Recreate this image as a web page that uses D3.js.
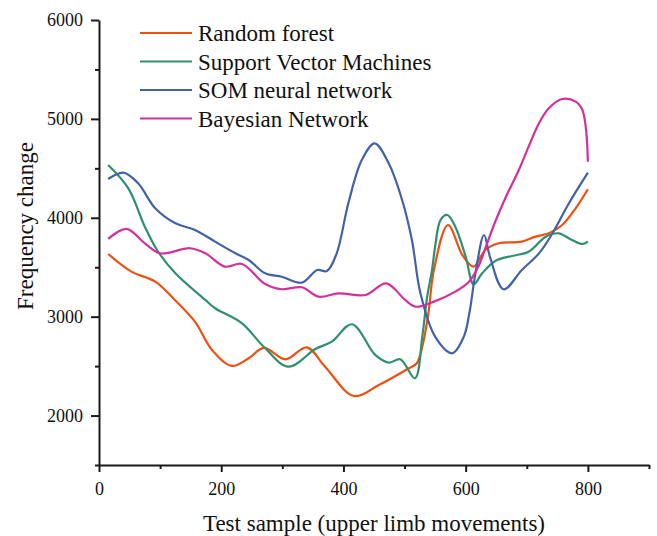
<!DOCTYPE html>
<html>
<head>
<meta charset="utf-8">
<script src="https://cdn.jsdelivr.net/npm/d3@7"></script>
<style>
  body { margin: 0; background: #fff; }
  svg { display: block; font-family: "Liberation Serif", "Times New Roman", serif; }
  svg text { font-family: "Liberation Serif", "Times New Roman", serif; }
</style>
</head>
<body>
<div id="chart"></div>
<script>
// series names + colours
const seriesNames = ["Random forest", "Support Vector Machines", "SOM neural network", "Bayesian Network"];
const seriesColors = ["#ef4f10", "#2f8f6f", "#4262a8", "#d4309a"];

// Random forest
const rfX = [15, 53, 92, 124, 157, 185, 217, 245, 270, 305, 340, 370, 417, 458, 507, 520, 529, 539, 548, 571, 595, 613, 632, 654, 692, 714, 736, 758, 780, 800];
const rfY = [3634, 3455, 3354, 3169, 2949, 2663, 2502, 2580, 2685, 2569, 2690, 2494, 2198, 2309, 2478, 2529, 2697, 3034, 3472, 3927, 3620, 3506, 3674, 3742, 3759, 3809, 3843, 3927, 4096, 4288];

// Support Vector Machines
const svmX = [15, 48, 75, 95, 125, 174, 190, 234, 270, 310, 354, 381, 414, 452, 474, 493, 517, 529, 537, 545, 550, 559, 570, 583, 600, 613, 627, 649, 676, 703, 731, 752, 774, 791, 800];
const svmY = [4534, 4298, 3910, 3674, 3438, 3169, 3085, 2933, 2693, 2494, 2673, 2747, 2923, 2613, 2535, 2569, 2377, 2798, 3202, 3472, 3708, 3978, 4028, 3910, 3607, 3327, 3438, 3566, 3614, 3657, 3809, 3843, 3776, 3735, 3759];

// SOM neural network
const somX = [15, 40, 64, 92, 125, 157, 190, 223, 245, 272, 299, 332, 357, 373, 389, 408, 430, 451, 474, 496, 512, 526, 550, 578, 597, 606, 616, 630, 640, 662, 692, 720, 742, 769, 800];
const somY = [4392, 4456, 4349, 4096, 3944, 3877, 3759, 3641, 3573, 3438, 3404, 3344, 3472, 3462, 3641, 4147, 4584, 4753, 4551, 4180, 3776, 3236, 2798, 2630, 2798, 3034, 3438, 3826, 3600, 3277, 3472, 3640, 3843, 4147, 4456];

// Bayesian Network
const bnX = [15, 45, 75, 100, 149, 174, 206, 234, 272, 299, 332, 359, 392, 436, 470, 501, 518, 548, 583, 605, 621, 635, 649, 665, 687, 703, 720, 736, 758, 780, 791, 797, 800];
const bnY = [3786, 3887, 3742, 3641, 3692, 3641, 3506, 3533, 3330, 3277, 3297, 3202, 3236, 3219, 3337, 3169, 3101, 3152, 3253, 3350, 3510, 3740, 3970, 4200, 4483, 4719, 4955, 5107, 5201, 5174, 5090, 4888, 4567];

const xTicks = [0, 100, 200, 300, 400, 500, 600, 700, 800, 900];
const yTicks = [1500, 2000, 2500, 3000, 3500, 4000, 4500, 5000, 5500, 6000];

const allX = [rfX, svmX, somX, bnX];
const allY = [rfY, svmY, somY, bnY];

const width = 657, height = 536;
const margin = {top: 20, right: 8, bottom: 71, left: 99};

const svg = d3.select("#chart")
  .append("svg")
    .attr("width", width)
    .attr("height", height);

const x = d3.scaleLinear()
  .domain([0, 900])
  .range([margin.left, width - margin.right]);

const y = d3.scaleLinear()
  .domain([1500, 6000])
  .range([height - margin.bottom, margin.top]);

// x axis: majors labelled every 200
const xAxis = svg.append("g")
  .attr("transform", `translate(0, ${height - margin.bottom})`)
  .call(d3.axisBottom(x)
    .tickValues(xTicks)
    .tickSizeOuter(0)
    .tickFormat(d => d % 200 === 0 && d < 900 ? d : ""));
xAxis.attr("font-family", null).attr("font-size", null);
xAxis.selectAll(".tick line")
  .attr("y2", d => d % 200 === 0 ? 7 : 4);
xAxis.selectAll(".tick text")
  .attr("y", 17)
  .attr("fill", "#111")
  .style("font-size", "18px");

// y axis: labelled every 1000
const yAxis = svg.append("g")
  .attr("transform", `translate(${margin.left}, 0)`)
  .call(d3.axisLeft(y)
    .tickValues(yTicks)
    .tickSizeOuter(0)
    .tickFormat(d => d % 1000 === 0 ? d : ""));
yAxis.attr("font-family", null).attr("font-size", null);
yAxis.selectAll(".tick line")
  .attr("x2", d => d % 1000 === 0 ? -8 : -4);
yAxis.selectAll(".tick text")
  .attr("x", -16)
  .attr("fill", "#111")
  .style("font-size", "18px");

svg.selectAll(".domain, .tick line")
  .attr("stroke", "#1a1a1a")
  .attr("stroke-width", 2);

// lines
const line = d3.line()
  .curve(d3.curveCatmullRom.alpha(0.5))
  .x(d => x(d[0]))
  .y(d => y(d[1]));

const seriesData = seriesNames.map((name, i) => ({
  name: name,
  color: seriesColors[i],
  points: allX[i].map((v, j) => [v, allY[i][j]])
}));

svg.selectAll(".series")
  .data(seriesData)
  .join("path")
    .attr("class", "series")
    .attr("fill", "none")
    .attr("stroke", d => d.color)
    .attr("stroke-width", 2.2)
    .attr("d", d => line(d.points));

// legend
const legend = svg.append("g");
const legendRows = legend.selectAll("g")
  .data(seriesData)
  .join("g")
    .attr("transform", (d, i) => `translate(140, ${33 + i * 28.5})`);
legendRows.append("line")
  .attr("x1", 0).attr("x2", 52)
  .attr("stroke", d => d.color)
  .attr("stroke-width", 2.2);
legendRows.append("text")
  .attr("x", 58)
  .attr("y", 8)
  .attr("fill", "#111")
  .style("font-size", "23px")
  .text(d => d.name);

// axis titles
svg.append("text")
  .attr("x", (margin.left + width - margin.right) / 2)
  .attr("y", 531)
  .attr("text-anchor", "middle")
  .attr("fill", "#111")
  .style("font-size", "23px")
  .text("Test sample (upper limb movements)");

svg.append("text")
  .attr("transform", "translate(33, 226) rotate(-90)")
  .attr("text-anchor", "middle")
  .attr("fill", "#111")
  .style("font-size", "23px")
  .text("Frequency change");
</script>
</body>
</html>
